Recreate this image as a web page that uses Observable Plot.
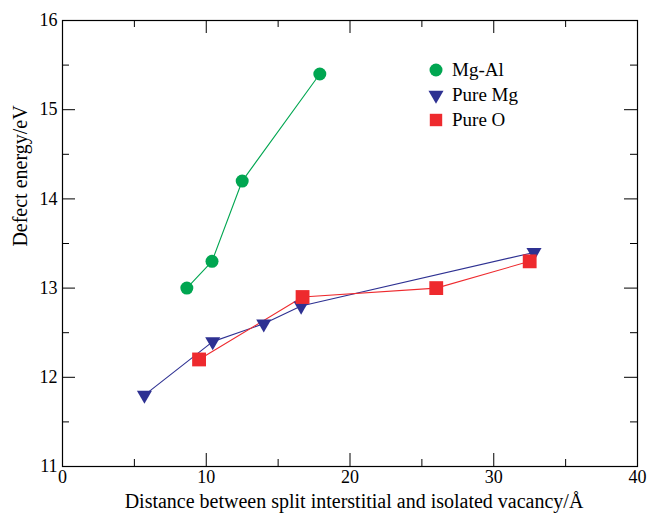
<!DOCTYPE html>
<html><head><meta charset="utf-8">
<script src="https://cdn.jsdelivr.net/npm/d3@7"></script>
<script src="https://cdn.jsdelivr.net/npm/@observablehq/plot@0.6"></script>
<style>body{margin:0;background:#fff}#c{position:relative;width:649px;height:515px}
#c svg, #c svg text{font-family:"Liberation Serif","DejaVu Serif",serif !important}</style>
</head><body><div id="c"></div>
<script>
const mgAlX = [8.65, 10.4, 12.5, 17.9];
const mgAlY = [13.0, 13.3, 14.2, 15.4];
const pureMgX = [5.7, 10.45, 14.0, 16.6, 32.8];
const pureMgY = [11.8, 12.4, 12.6, 12.8, 13.4];
const pureOX = [9.5, 16.7, 26.0, 32.5];
const pureOY = [12.2, 12.9, 13.0, 13.3];
const xMajor = [0, 10, 20, 30, 40];
const xMinor = [5, 15, 25, 35];
const yMajor = [11, 12, 13, 14, 15, 16];
const yMinor = [11.5, 12.5, 13.5, 14.5, 15.5];
const seriesNames = ["Mg-Al", "Pure Mg", "Pure O"];
const colors = ["#00a651", "#2e3192", "#ee2a2e"];

const mk = (xs, ys) => xs.map((x, i) => ({x, y: ys[i]}));
const mgAl = mk(mgAlX, mgAlY), pureMg = mk(pureMgX, pureMgY), pureO = mk(pureOX, pureOY);

const W = 649, H = 515, mL = 62, mR = 12, mT = 20, mB = 49;
const ph = H - mT - mB, pw = W - mL - mR;
const font = "Liberation Serif, DejaVu Serif, serif";

const chart = Plot.plot({
  width: W, height: H,
  marginLeft: mL, marginRight: mR, marginTop: mT, marginBottom: mB,
  style: {fontFamily: font, fontSize: "18px", color: "#000", background: "#fff"},
  x: {domain: [0, 40]},
  y: {domain: [11, 16]},
  marks: [
    Plot.frame({stroke: "#000", strokeWidth: 1.2}),
    Plot.axisX(xMajor, {tickSize: 0, tickPadding: 4, label: null, fontSize: 18, fontFamily: font, tickFormat: d3.format("d")}),
    Plot.axisY(yMajor, {tickSize: 0, tickPadding: 5, label: null, fontSize: 18, fontFamily: font, tickFormat: d3.format("d")}),
    Plot.ruleX(xMajor, {x: d => d, insetTop: ph - 13, stroke: "#000"}),
    Plot.ruleX(xMajor, {x: d => d, insetBottom: ph - 13, stroke: "#000"}),
    Plot.ruleX(xMinor, {x: d => d, insetTop: ph - 7, stroke: "#000"}),
    Plot.ruleX(xMinor, {x: d => d, insetBottom: ph - 7, stroke: "#000"}),
    Plot.ruleY(yMajor, {y: d => d, insetRight: pw - 13, stroke: "#000"}),
    Plot.ruleY(yMajor, {y: d => d, insetLeft: pw - 13, stroke: "#000"}),
    Plot.ruleY(yMinor, {y: d => d, insetRight: pw - 7, stroke: "#000"}),
    Plot.ruleY(yMinor, {y: d => d, insetLeft: pw - 7, stroke: "#000"}),
    Plot.line(mgAl, {x: "x", y: "y", stroke: colors[0], strokeWidth: 1.1}),
    Plot.line(pureMg, {x: "x", y: "y", stroke: colors[1], strokeWidth: 1.1}),
    Plot.line(pureO, {x: "x", y: "y", stroke: colors[2], strokeWidth: 1.1}),
    Plot.dot(mgAl, {x: "x", y: "y", r: 6.5, fill: colors[0], symbol: "circle"}),
    Plot.dot(pureMg, {x: "x", y: "y", r: 5.6, fill: colors[1], symbol: "triangle", rotate: 180}),
    Plot.dot(pureO, {x: "x", y: "y", r: 7.8, fill: colors[2], symbol: "square"})
  ]
});
document.getElementById("c").appendChild(chart);

const svg = d3.select(chart);
svg.append("text").attr("x", 354).attr("y", 508).attr("text-anchor", "middle")
  .attr("font-family", font).attr("font-size", 20).attr("fill", "#000")
  .text("Distance between split interstitial and isolated vacancy/Å");
svg.append("text").attr("transform", "translate(27,176) rotate(-90)").attr("text-anchor", "middle")
  .attr("font-family", font).attr("font-size", 20).attr("fill", "#000")
  .text("Defect energy/eV");

// legend
const lg = svg.append("g").attr("transform", "translate(436,70)");
const syms = [d3.symbolCircle, d3.symbolTriangle, d3.symbolSquare];
const sizes = [Math.PI*6.5*6.5, Math.PI*5.6*5.6, Math.PI*7*7];
seriesNames.forEach((n, i) => {
  const g = lg.append("g").attr("transform", `translate(0,${i*25})`);
  g.append("path").attr("d", d3.symbol(syms[i], sizes[i])())
    .attr("transform", i === 1 ? "rotate(180)" : null).attr("fill", colors[i]);
  g.append("text").attr("x", 16).attr("y", 6).attr("text-anchor", "start")
    .attr("font-family", font).attr("font-size", 19).attr("fill", "#000").text(n);
});
</script></body></html>
